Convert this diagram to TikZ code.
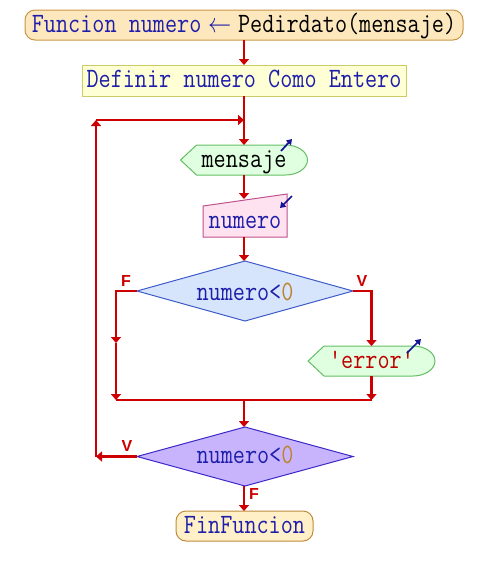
\documentclass[tikz,border=0pt]{standalone}
\usepackage{fontspec}
\usetikzlibrary{arrows.meta,calc}
\newfontfamily\lblfont{Liberation Sans}
\newcommand\pstx[1]{\scalebox{0.84}[1]{#1}}
\definecolor{flowred}{RGB}{204,0,0}
\definecolor{txtblue}{RGB}{30,30,170}
\definecolor{iob}{RGB}{20,20,150}
\definecolor{numor}{RGB}{190,130,40}
\definecolor{errred}{RGB}{190,0,0}
\definecolor{topfill}{RGB}{253,232,190}
\definecolor{topdraw}{RGB}{200,150,70}
\definecolor{deffill}{RGB}{255,255,214}
\definecolor{defdraw}{RGB}{204,204,102}
\definecolor{outfill}{RGB}{224,255,224}
\definecolor{outdraw}{RGB}{100,190,100}
\definecolor{infill}{RGB}{255,226,240}
\definecolor{indraw}{RGB}{190,80,140}
\definecolor{d1fill}{RGB}{214,228,252}
\definecolor{d1draw}{RGB}{60,90,200}
\definecolor{d2fill}{RGB}{200,180,252}
\definecolor{d2draw}{RGB}{60,40,200}
\definecolor{finfill}{RGB}{255,240,200}
\definecolor{findraw}{RGB}{190,140,60}
\pgfdeclarelayer{bg}
\pgfsetlayers{bg,main}
\begin{document}
\begin{tikzpicture}[x=0.75pt,y=-0.75pt,
  box/.style={rectangle, inner sep=0pt, outer sep=0pt,
    font=\ttfamily\fontsize{21}{21}\selectfont, text height=12pt, text depth=1.5pt},
  flow/.style={draw=flowred, line width=1.6pt, -{Triangle[width=7.5pt,length=4.5pt]}},
  plain/.style={draw=flowred, line width=1.6pt},
  tag/.style={text=flowred, inner sep=0pt, font=\lblfont\bfseries\fontsize{12}{12}\selectfont},
  io/.style={draw=iob, line width=1.3pt, -{Triangle[width=5pt,length=4pt]}},
  thinb/.style={line width=0.75pt}
]
\useasboundingbox (0,0) rectangle (488,576);

% nodes
\node[box, draw=topdraw, fill=topfill, thinb, rounded corners=7.5pt,
      minimum width=328.5pt, minimum height=22.5pt] (top) at (244,25)
  {\pstx{\textcolor{txtblue}{Funcion numero\hspace{6pt}$\leftarrow$\hspace{6pt}}Pedirdato(mensaje)}};
\node[box, draw=defdraw, fill=deffill, thinb,
      minimum width=243pt, minimum height=23.25pt] (def) at (244,80.5)
  {\pstx{\textcolor{txtblue}{Definir numero Como Entero}}};
\node[box, minimum width=95.25pt, minimum height=22.5pt] (M) at (244,160) {\pstx{mensaje}};
\node[box, text height=19pt, text depth=0.25pt,
      minimum width=63pt, minimum height=32.25pt] (N) at (245,215.5)
  {\pstx{\textcolor{txtblue}{numero}}};
\node[box, text height=14.5pt, text depth=1pt,
      minimum width=162pt, minimum height=45pt] (D1) at (245,291)
  {\pstx{\textcolor{txtblue}{numero<}\textcolor{numor}{0}}};
\node[box, minimum width=95.25pt, minimum height=22.5pt] (E) at (371.5,361)
  {\pstx{\textcolor{errred}{'error'}}};
\node[box, minimum width=162pt, minimum height=44.25pt] (D2) at (245,456.5)
  {\pstx{\textcolor{txtblue}{numero<}\textcolor{numor}{0}}};
\node[box, draw=findraw, fill=finfill, thinb, rounded corners=7.5pt,
      minimum width=102.75pt, minimum height=22.5pt] (fin) at (244.5,526)
  {\pstx{\textcolor{txtblue}{FinFuncion}}};

% shapes behind the text
\begin{pgfonlayer}{bg}
\filldraw[draw=outdraw, fill=outfill, thinb]
  (M.west) -- ($(M.north west)+(16,0)$) -- ($(M.north east)+(-22,0)$)
  arc[start angle=-90, end angle=90, x radius=22, y radius=15]
  -- ($(M.south west)+(16,0)$) -- cycle;
\filldraw[draw=outdraw, fill=outfill, thinb]
  (E.west) -- ($(E.north west)+(16,0)$) -- ($(E.north east)+(-22,0)$)
  arc[start angle=-90, end angle=90, x radius=22, y radius=15]
  -- ($(E.south west)+(16,0)$) -- cycle;
\filldraw[draw=indraw, fill=infill, thinb]
  (N.south west) -- ($(N.north west)+(0,12)$) -- (N.north east) -- (N.south east) -- cycle;
\filldraw[draw=d1draw, fill=d1fill, thinb]
  (D1.north) -- (D1.east) -- (D1.south) -- (D1.west) -- cycle;
\filldraw[draw=d2draw, fill=d2fill, thinb]
  (D2.north) -- (D2.east) -- (D2.south) -- (D2.west) -- cycle;
\end{pgfonlayer}

% junction points
\coordinate (loopin) at (244,120);
\coordinate (loopc) at (96,120);
\coordinate (loopb) at (96,456.5);
\coordinate (lmid) at (116,343);
\coordinate (lbot) at (116,400);
\coordinate (rbot) at (371.5,400);
\coordinate (jn) at (244,400);

% connectors
\draw[flow] (top.south) -- (top.south |- def.north);
\draw[flow] (def.south) -- (def.south |- M.north);
\draw[flow] (M.south) -- ($(M.south |- N.north)+(0,5)$);
\draw[flow] (N.south -| M.south) -- (M.south |- D1.north);
\draw[flow] (D1.west) -| (lmid);
\draw[flow] (lmid) -- (lbot);
\draw[flow] (D1.east) -| (E.north);
\draw[flow] (E.south) -- (rbot);
\draw[plain] (lbot) -- (rbot);
\draw[flow] (jn) -- (jn |- D2.north);
\draw[flow] (D2.west) -- (loopb);
\draw[flow] (loopb) -- (loopc);
\draw[flow] (loopc) -- (loopin);
\draw[flow] (D2.south -| jn) -- (jn |- fin.north);

% branch labels
\node[tag] (f1) at (126,281) {F};
\node[tag] (v1) at (362,281) {V};
\node[tag] (v2) at (127,446) {V};
\node[tag] (f2) at (254,494) {F};

% in/out markers
\draw[io] ($(M.north east)+(-26.5,6)$) -- ($(M.north east)+(-15.5,-6)$);
\draw[io] ($(N.north east)+(5,2)$) -- ($(N.north east)+(-7,14)$);
\draw[io] ($(E.north east)+(-28,7)$) -- ($(E.north east)+(-14,-7)$);
\end{tikzpicture}
\end{document}
